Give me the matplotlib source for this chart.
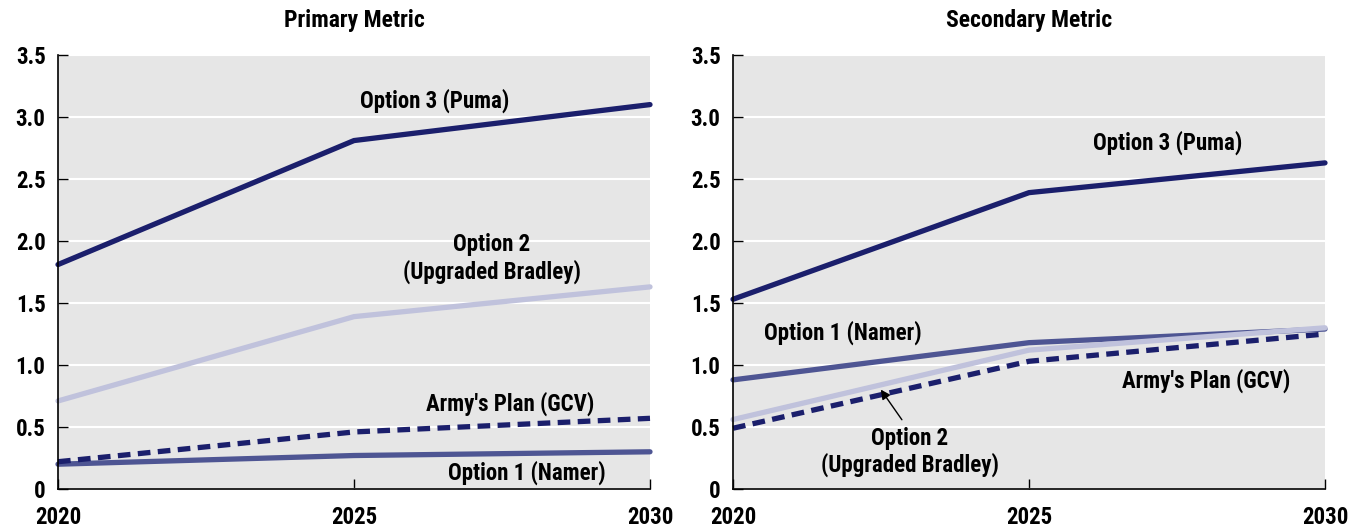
import matplotlib
matplotlib.use("Agg")
import matplotlib.pyplot as plt

plt.rcParams['font.family'] = ['Roboto Condensed', 'Liberation Sans Narrow', 'DejaVu Sans']
plt.rcParams['font.stretch'] = 'condensed'
plt.rcParams['font.weight'] = 'bold'

years = [2020, 2025, 2030]

primary_opt3 = [1.81, 2.81, 3.10]
primary_opt2 = [0.71, 1.39, 1.63]
primary_army = [0.22, 0.46, 0.57]
primary_opt1 = [0.20, 0.27, 0.30]

secondary_opt3 = [1.53, 2.39, 2.63]
secondary_opt2 = [0.56, 1.12, 1.30]
secondary_army = [0.49, 1.03, 1.25]
secondary_opt1 = [0.88, 1.18, 1.29]

yticks = [0, 0.5, 1.0, 1.5, 2.0, 2.5, 3.0, 3.5]
ytick_labels = ["0", "0.5", "1.0", "1.5", "2.0", "2.5", "3.0", "3.5"]
xtick_labels = ["2020", "2025", "2030"]

c_dark = "#1b1f6c"
c_mid = "#4e5593"
c_light = "#c0c2dc"
bg = "#e6e6e6"

fig = plt.figure(figsize=(13.61, 5.29), dpi=100)
ax1 = fig.add_axes([58/1361, 1-489/529, 592/1361, 434/529])
ax2 = fig.add_axes([733/1361, 1-489/529, 592/1361, 434/529])

def style(ax, title):
    ax.set_facecolor(bg)
    ax.set_xlim(2020, 2030)
    ax.set_ylim(0, 3.5)
    ax.set_yticks(yticks)
    ax.set_yticklabels(ytick_labels)
    ax.set_xticks(years)
    ax.set_xticklabels(xtick_labels)
    ax.grid(axis='y', color='white', linewidth=1.5)
    ax.set_axisbelow(True)
    for s in ['top', 'right']:
        ax.spines[s].set_visible(False)
    for s in ['left', 'bottom']:
        ax.spines[s].set_color('black')
        ax.spines[s].set_linewidth(1.2)
    ax.tick_params(axis='both', direction='in', length=7, width=1, labelsize=16.5)
    ax.tick_params(axis='x', pad=12)
    ax.tick_params(axis='y', pad=9)
    for lab in ax.get_xticklabels() + ax.get_yticklabels():
        lab.set_fontweight('bold')
    ax.set_title(title, fontsize=17, fontweight='bold', pad=20)

lw = 3.8
dash = (2.4, 1.4)
style(ax1, "Primary Metric")
ax1.plot(years, primary_opt1, color=c_mid, lw=lw, solid_capstyle='round', clip_on=False)
ax1.plot(years, primary_army, color=c_dark, lw=lw, dashes=dash, clip_on=False)
ax1.plot(years, primary_opt2, color=c_light, lw=lw, solid_capstyle='round', clip_on=False)
ax1.plot(years, primary_opt3, color=c_dark, lw=lw, solid_capstyle='round', clip_on=False)

tk = dict(fontsize=16.5, fontweight='bold', ha='center', va='center')
ax1.text(2026.37, 3.13, "Option 3 (Puma)", **tk)
ax1.text(2027.33, 1.86, "Option 2\n(Upgraded Bradley)", linespacing=1.15, **tk)
ax1.text(2027.64, 0.69, "Army's Plan (GCV)", **tk)
ax1.text(2027.92, 0.13, "Option 1 (Namer)", **tk)

style(ax2, "Secondary Metric")
ax2.plot(years, secondary_opt1, color=c_mid, lw=lw, solid_capstyle='round', clip_on=False)
ax2.plot(years, secondary_army, color=c_dark, lw=lw, dashes=dash, clip_on=False)
ax2.plot(years, secondary_opt2, color=c_light, lw=lw, solid_capstyle='round', clip_on=False)
ax2.plot(years, secondary_opt3, color=c_dark, lw=lw, solid_capstyle='round', clip_on=False)

ax2.text(2027.35, 2.79, "Option 3 (Puma)", **tk)
ax2.text(2021.86, 1.26, "Option 1 (Namer)", **tk)
ax2.text(2027.99, 0.87, "Army's Plan (GCV)", **tk)
ax2.text(2022.99, 0.30, "Option 2\n(Upgraded Bradley)", linespacing=1.15, **tk)
ax2.annotate("", xy=(2022.47, 0.82), xytext=(2022.88, 0.54),
             arrowprops=dict(arrowstyle='-|>', color='black', lw=1, mutation_scale=14))

fig.savefig("out.png", dpi=100)
